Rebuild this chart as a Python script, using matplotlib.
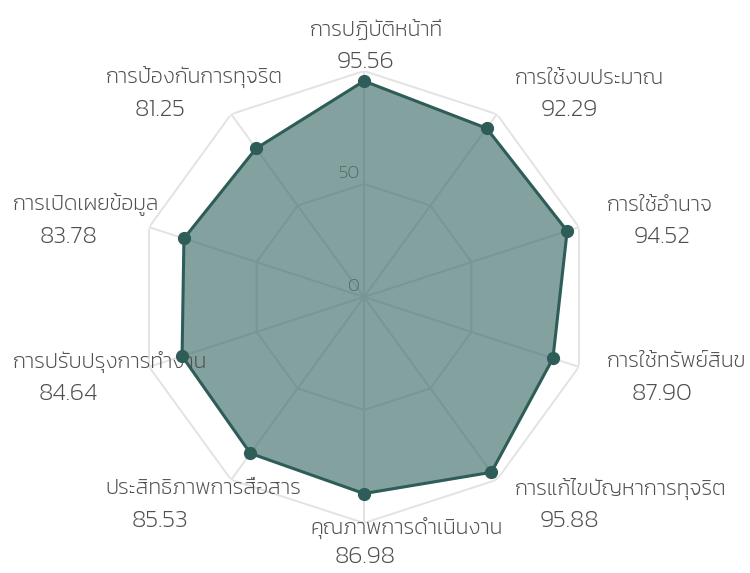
import numpy as np
import matplotlib
matplotlib.use("Agg")
import matplotlib.pyplot as plt
from matplotlib import font_manager
from matplotlib.font_manager import FontProperties

categories = [
    "การปฏิบัติหน้าที่",
    "การใช้งบประมาณ",
    "การใช้อำนาจ",
    "การใช้ทรัพย์สินข",
    "การแก้ไขปัญหาการทุจริต",
    "คุณภาพการดำเนินงาน",
    "ประสิทธิภาพการสื่อสาร",
    "การปรับปรุงการทำงาน",
    "การเปิดเผยข้อมูล",
    "การป้องกันการทุจริต",
]
values = [95.56, 92.29, 94.52, 87.90, 95.88, 86.98, 85.53, 84.64, 83.78, 81.25]
grid_levels = [50, 100]
tick_labels = ["0", "50"]
tick_values = [0, 50]
r_max = 100

# pick a light Kanit face
font_file = None
files = {f.fname.split("/")[-1]: f.fname for f in font_manager.fontManager.ttflist}
for cand in ["Kanit-ExtraLight.ttf", "Kanit-Light.ttf"]:
    if cand in files:
        font_file = files[cand]
        break


def fp(size):
    if font_file:
        return FontProperties(fname=font_file, size=size)
    return FontProperties(family=["Kanit", "DejaVu Sans"], weight=300, size=size)


LINE = "#2e5d58"
FILL = "#2f6360"
GRID = "#e3e3e3"
TEXT = "#4f4f4f"

W, H, DPI = 750, 573, 100
fig = plt.figure(figsize=(W / DPI, H / DPI), dpi=DPI)
cx, cy, R = 364, 297, 226
ax = fig.add_axes([(cx - R) / W, (H - cy - R) / H, 2 * R / W, 2 * R / H], projection="polar")
ax.set_theta_offset(np.pi / 2)
ax.set_theta_direction(-1)
ax.set_ylim(0, r_max)
ax.axis("off")

n = len(categories)
angles = np.arange(n) * 2 * np.pi / n
closed_a = np.append(angles, angles[0])

# polygon grid
for lv in grid_levels:
    ax.plot(closed_a, [lv] * (n + 1), color=GRID, lw=1.4, zorder=1)
for a in angles:
    ax.plot([a, a], [0, r_max], color=GRID, lw=1.4, zorder=1)

vals_closed = np.append(values, values[0])
ax.fill(closed_a, vals_closed, color=FILL, alpha=0.6, zorder=2, lw=0)
ax.plot(closed_a, vals_closed, color=LINE, lw=2.2, zorder=3)
ax.plot(angles, values, "o", color=LINE, ms=8.5, zorder=4)

# radial tick labels
for tv, tl in zip(tick_values, tick_labels):
    ax.annotate(tl, xy=(0, tv), xytext=(-4, 2), textcoords="offset pixels",
                ha="right", va="bottom", fontproperties=fp(13.5), color="#566e6c",
                zorder=5)

# category + value labels
for a, cat, v in zip(angles, categories, values):
    s, c = np.sin(a), np.cos(a)
    sg = 0 if abs(s) < 1e-6 else np.sign(s)
    dx = 27.5 * s + 55.6 * sg + 1
    dy = 18.5 - 28 * c
    # keep the value text inside the figure
    vertex_y = cy - R * c
    val_dy = min(dy, (H - 16) - vertex_y)
    cat_dy = min(dy - 32, val_dy - 29)
    ax.annotate(f"{v:.2f}", xy=(a, r_max), xytext=(dx, -val_dy), textcoords="offset pixels",
                ha="center", va="center", fontproperties=fp(18), color=TEXT,
                annotation_clip=False)
    ax.annotate(cat, xy=(a, r_max), xytext=(dx - 55, -cat_dy), textcoords="offset pixels",
                ha="left", va="center", fontproperties=fp(15.5), color=TEXT,
                annotation_clip=False)

fig.savefig("out.png", dpi=DPI)
